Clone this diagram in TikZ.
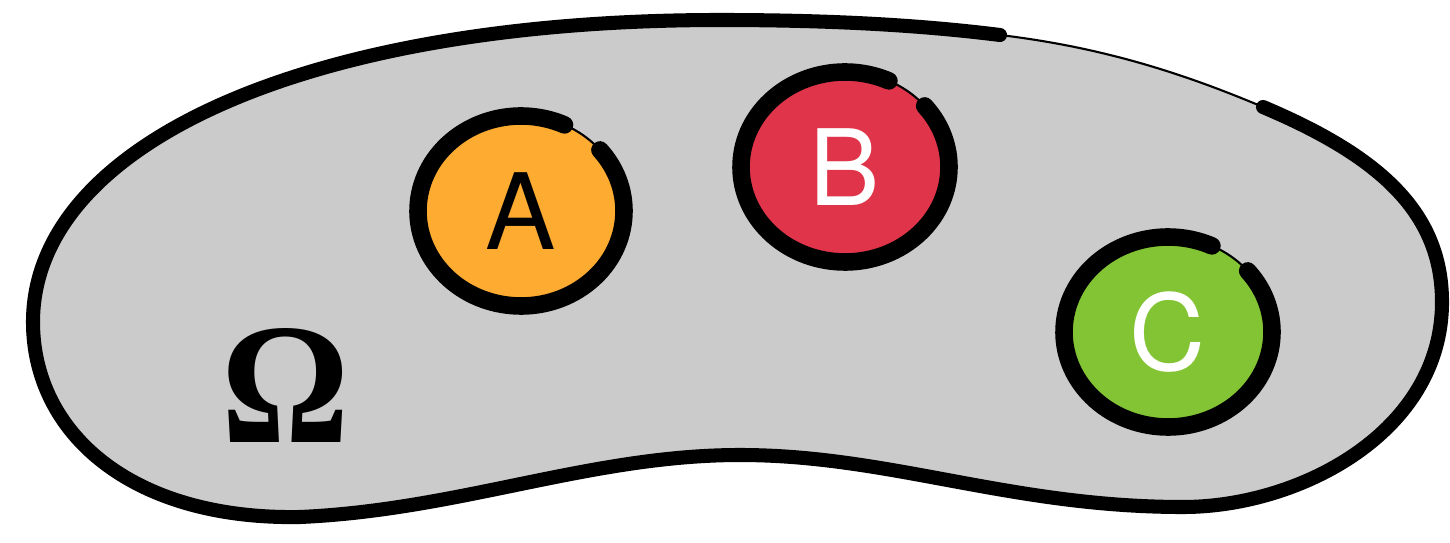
\documentclass[tikz,border=0pt]{standalone}
\usepackage{fontspec}
\setsansfont{TeX Gyre Heros}
\newfontfamily\omegafont{Liberation Serif}
\usetikzlibrary{shapes.geometric}
\definecolor{blobfill}{HTML}{CBCBCB}
\definecolor{spotA}{HTML}{FDAB31}
\definecolor{spotB}{HTML}{E0344A}
\definecolor{spotC}{HTML}{83C434}

\begin{document}
\begin{tikzpicture}[
  x=0.02cm, y=0.02cm,
  spot/.style={ellipse, inner sep=0pt, minimum width=4.12cm, minimum height=3.8cm, font=\sffamily\fontsize{60}{60}\selectfont},
  brush/.style={line width=10pt, line cap=round},
  hair/.style={line width=1.2pt},
]
\useasboundingbox (0,0) rectangle (1450,542);

% the set
\coordinate (west) at (33,220);
\coordinate (north) at (720,522);
\coordinate (nne) at (1000,507);
\coordinate (ne) at (1263,435);
\coordinate (east) at (1442,240);
\coordinate (se) at (1183,35);
\coordinate (dip) at (740,87);
\coordinate (sw) at (300,25);

\fill[blobfill] (west) .. controls (33,395) and (300,522) .. (north)
  .. controls (830,522) and (920,517) .. (nne)
  .. controls (1100,495) and (1180,470) .. (ne)
  .. controls (1379,386) and (1442,330) .. (east)
  .. controls (1442,110) and (1300,35) .. (se)
  .. controls (1010,35) and (890,87) .. (dip)
  .. controls (590,87) and (460,32) .. (sw)
  .. controls (130,22) and (33,110) .. (west) -- cycle;
\draw[hair] (nne) .. controls (1100,495) and (1180,470) .. (ne);
\draw[line width=8pt, line cap=round] (ne)
  .. controls (1379,386) and (1442,330) .. (east)
  .. controls (1442,110) and (1300,35) .. (se)
  .. controls (1010,35) and (890,87) .. (dip)
  .. controls (590,87) and (460,32) .. (sw)
  .. controls (130,22) and (33,110) .. (west)
  .. controls (33,395) and (300,522) .. (north)
  .. controls (830,522) and (920,517) .. (nne);

% the events
\node[spot, fill=spotA] (a) at (521,331) {A};
\node[spot, fill=spotB, text=white] (b) at (845,375) {B};
\node[spot, fill=spotC, text=white] (c) at (1168,210) {C};

\draw[hair] (a.center) ellipse[x radius=103, y radius=95];
\draw[brush] (a.center) ++(40:103 and 95) arc[start angle=40, end angle=-295, x radius=103, y radius=95];
\draw[hair] (b.center) ellipse[x radius=104, y radius=95];
\draw[brush] (b.center) ++(40:104 and 95) arc[start angle=40, end angle=-295, x radius=104, y radius=95];
\draw[hair] (c.center) ellipse[x radius=104, y radius=95];
\draw[brush] (c.center) ++(40:104 and 95) arc[start angle=40, end angle=-295, x radius=104, y radius=95];

\node[font=\omegafont\bfseries\fontsize{98}{98}\selectfont, inner sep=0pt] (omega) at (286,157) {\scalebox{0.93}[1]{Ω}};
\end{tikzpicture}
\end{document}
